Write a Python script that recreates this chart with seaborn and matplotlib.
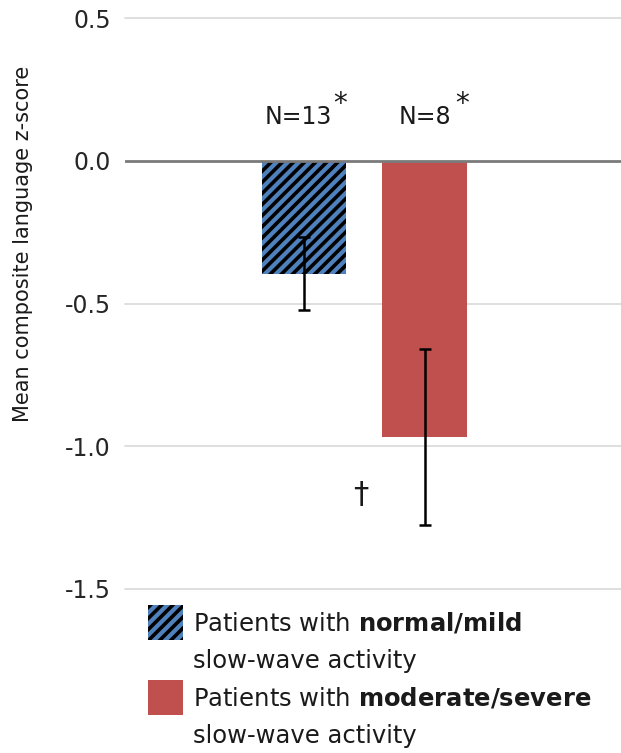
import matplotlib
matplotlib.use("Agg")
import matplotlib.pyplot as plt
import seaborn as sns
import numpy as np
from matplotlib.patches import Patch

# ---- data ----
groups = ["normal/mild", "moderate/severe"]
means = [-0.395, -0.968]
errors = [0.129, 0.308]
n_labels = ["N=13", "N=8"]
y_ticks = [0.5, 0.0, -0.5, -1.0, -1.5]
y_tick_labels = ["0.5", "0.0", "-0.5", "-1.0", "-1.5"]
legend_lines = ["Patients with $\\bf{normal/mild}$", "slow-wave activity",
                "Patients with $\\bf{moderate/severe}$", "slow-wave activity"]
ylabel = "Mean composite language z-score"

blue = "#4F81BD"
red = "#C0504D"

sns.set_theme(style="white")
plt.rcParams["font.family"] = ["DejaVu Sans"]
plt.rcParams["hatch.linewidth"] = 2.6

fig = plt.figure(figsize=(6.21, 7.53), dpi=100)
ax = fig.add_axes([125/621, (753-589)/753, 496/621, 571/753])

sns.barplot(x=groups, y=means, hue=groups, palette=[blue, red], order=groups,
            hue_order=groups, errorbar=None, width=0.7, legend=False, ax=ax,
            linewidth=0, saturation=1)
ax.patches[0].set_hatch("///")
ax.patches[0].set_edgecolor("black")
ax.patches[0].set_linewidth(0)

ax.errorbar(x=[0, 1], y=means, yerr=errors, fmt="none", ecolor="black",
            elinewidth=1.8, capsize=4, capthick=1.8, zorder=5)

ax.set_xlim(-1.485, 2.63)
ax.set_ylim(-1.5, 0.5)
ax.set_yticks(y_ticks)
ax.set_yticklabels(y_tick_labels)
ax.tick_params(axis="y", length=0, pad=10, labelsize=17, labelcolor="#262626")
ax.set_xticks([])
ax.set_xlabel("")
for s in ax.spines.values():
    s.set_visible(False)
for yv in y_ticks:
    if yv != 0.0:
        ax.axhline(yv, color="#D9D9D9", lw=1.2, zorder=0, clip_on=False)
ax.axhline(0.0, color="#7A7A7A", lw=2, zorder=6)

ax.set_ylabel(ylabel, fontsize=15, color="#1a1a1a")
ax.yaxis.set_label_coords(-0.185, 0.604)

# N labels and significance markers
n_x = [-0.05, 1.004]
for xi, lab in zip(n_x, n_labels):
    ax.text(xi, 0.154, lab, ha="center", va="center", fontsize=17, color="#1a1a1a")
star_x = [0.30, 1.31]
for xi in star_x:
    ax.text(xi, 0.20, "*", ha="center", va="center", fontsize=20, color="#1a1a1a")
ax.text(0.473, -1.168, "\u2020", ha="center", va="center", fontsize=22, color="#1a1a1a")

handles = [Patch(facecolor=blue, edgecolor="black", hatch="///", linewidth=0),
           Patch(facecolor="none", edgecolor="none", linewidth=0),
           Patch(facecolor=red, edgecolor=red, linewidth=0),
           Patch(facecolor="none", edgecolor="none", linewidth=0)]
leg = fig.legend(handles=handles, labels=legend_lines, loc="upper left",
                 bbox_to_anchor=(148/621, 1 - 605/753), frameon=False,
                 fontsize=17.5, handlelength=1.45, handleheight=1.84,
                 handletextpad=0.4, borderpad=0, borderaxespad=0,
                 labelspacing=0.1)
for t in leg.get_texts():
    t.set_color("#1a1a1a")

fig.savefig("out.png", dpi=100)
